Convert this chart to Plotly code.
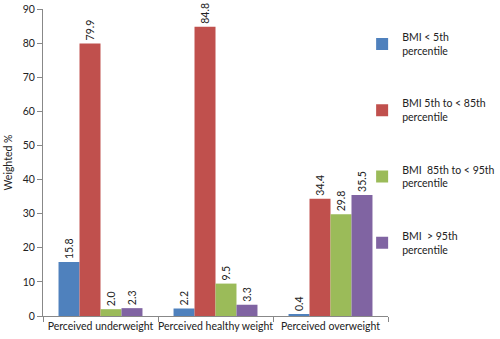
import plotly.graph_objects as go

categories = ["Perceived underweight", "Perceived healthy weight", "Perceived overweight"]
series_names = [
    "BMI < 5th<br>percentile",
    "BMI 5th to < 85th<br>percentile",
    "BMI  85th to < 95th<br>percentile",
    "BMI  > 95th<br>percentile",
]
series_values = [
    [15.8, 2.2, 0.4],
    [79.9, 84.8, 34.4],
    [2.0, 9.5, 29.8],
    [2.3, 3.3, 35.5],
]
colors = ["#4F81BD", "#C0504D", "#9BBB59", "#8064A2"]
y_ticks = [0, 10, 20, 30, 40, 50, 60, 70, 80, 90]

FONT = "Lato, Open Sans, sans-serif"

fig = go.Figure()
for i, (name, vals, col) in enumerate(zip(series_names, series_values, colors)):
    fig.add_trace(go.Bar(
        x=categories, y=vals, name=name,
        marker=dict(color=col, line=dict(width=0)),
        text=[f"{v:.1f}" for v in vals],
        textposition="outside", textangle=-90,
        textfont=dict(size=10.5, color="#222", family=FONT),
        cliponaxis=False,
        legendgroup=f"g{i}",
    ))

fig.update_layout(
    width=500, height=339,
    margin=dict(l=43, r=112, t=9, b=23, autoexpand=False),
    paper_bgcolor="white", plot_bgcolor="white",
    barmode="group", bargap=0.27, bargroupgap=0,
    font=dict(family=FONT, size=10.5, color="#222"),
    showlegend=True,
    legend=dict(
        x=0.925, xanchor="left", y=0.952, yanchor="top",
        xref="paper",
        font=dict(size=10.5, family=FONT, color="#222"),
        tracegroupgap=36, itemwidth=30,
        traceorder="grouped", bgcolor="rgba(0,0,0,0)",
    ),
    uniformtext=dict(minsize=8, mode="show"),
)
fig.update_xaxes(
    showline=True, linecolor="#888", linewidth=1,
    ticks="outside", tickson="boundaries", ticklen=5, tickcolor="#888",
    tickangle=0,
    tickfont=dict(size=10.5, family=FONT, color="#222"),
    showgrid=False,
)
fig.update_yaxes(
    range=[0, 90], tickvals=y_ticks,
    showline=True, linecolor="#888", linewidth=1,
    ticks="outside", ticklen=5, tickcolor="#888",
    tickfont=dict(size=10.5, family=FONT, color="#222"),
    showgrid=False, zeroline=False,
    title=dict(text="Weighted %", font=dict(size=10.5, family=FONT, color="#222"), standoff=8),
)

fig.write_html("out.html")
